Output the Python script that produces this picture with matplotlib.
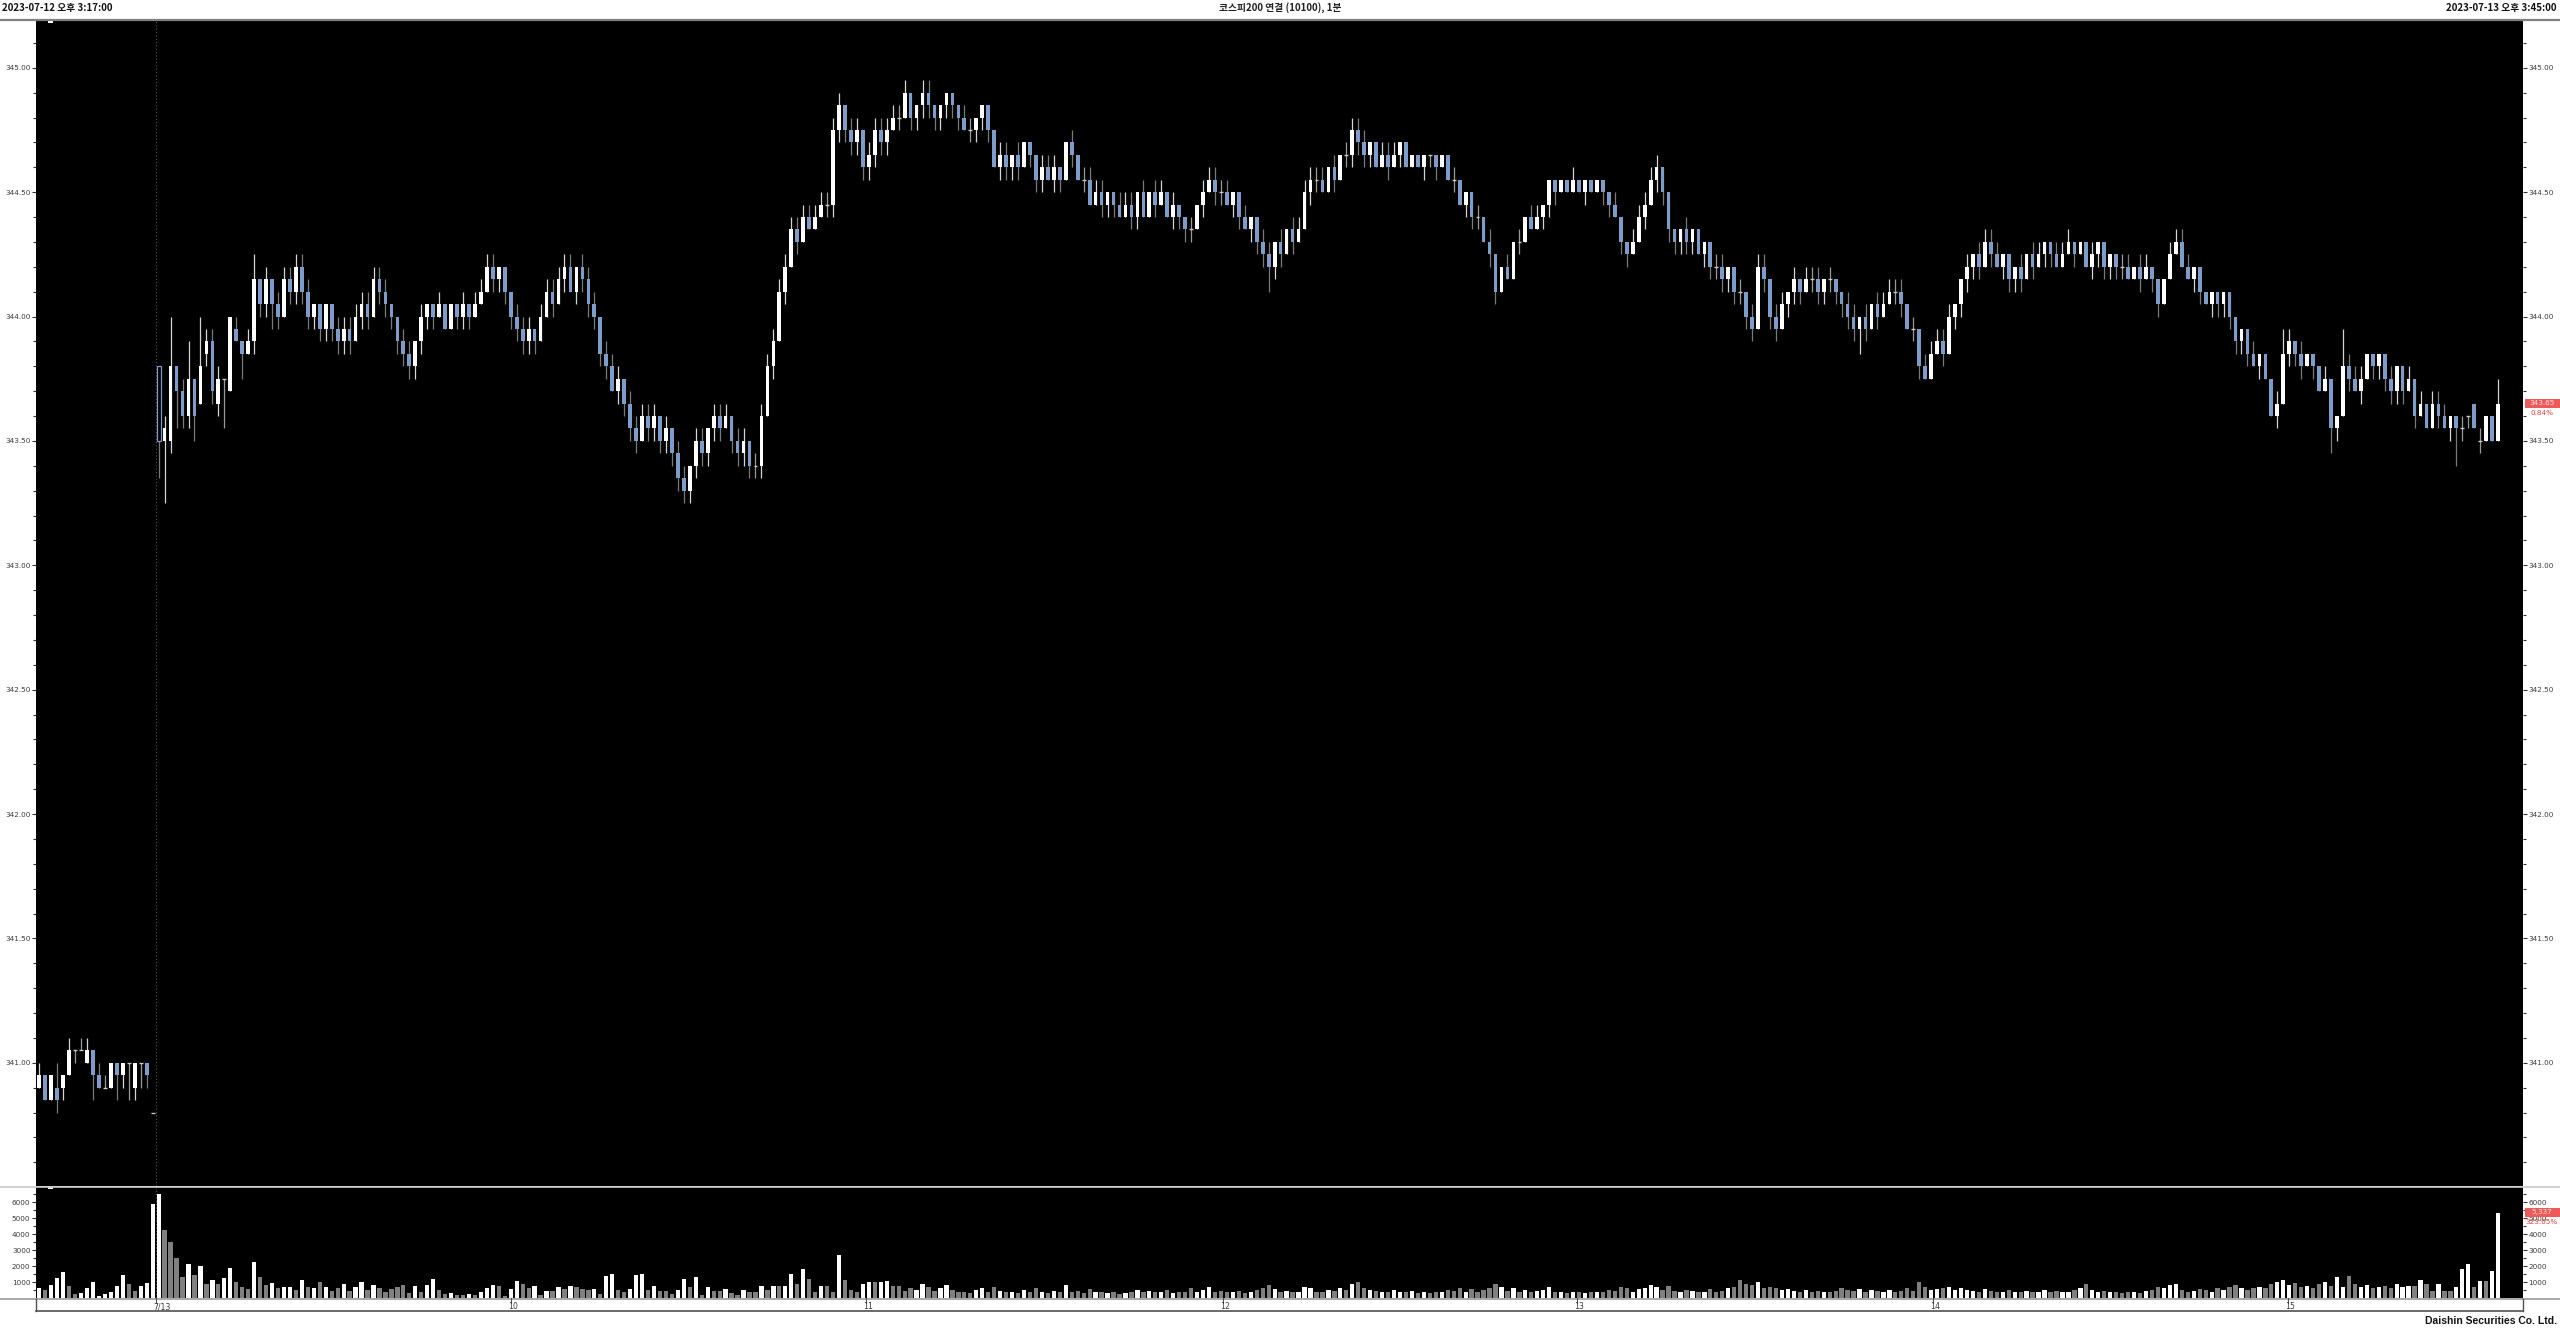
import matplotlib
matplotlib.use('Agg')
import matplotlib.pyplot as plt
import matplotlib.transforms as mtransforms
from matplotlib.patches import Rectangle
from matplotlib.lines import Line2D
import numpy as np

# ---------------- data ----------------
title_left = "2023-07-12 오후 3:17:00"
title_center = "코스피200 연결 (10100), 1분"
title_right = "2023-07-13 오후 3:45:00"
footer = "Daishin Securities Co. Ltd."

opens = [
    340.90, 340.95, 340.85, 340.90, 340.90, 340.95, 341.05, 341.05, 341.00, 341.05,
    340.95, 340.90, 340.90, 341.00, 340.95, 341.00, 340.90, 341.00, 341.00, 340.80,
    343.80, 343.50, 343.50, 343.80, 343.70, 343.60, 343.75, 343.65, 343.85, 343.90,
    343.65, 343.75, 343.70, 343.95, 343.90, 343.85, 343.90, 344.15, 344.05, 344.15,
    344.05, 344.00, 344.15, 344.10, 344.20, 344.10, 344.00, 344.05, 343.95, 344.05,
    343.95, 343.90, 343.95, 343.90, 344.00, 344.05, 344.00, 344.15, 344.10, 344.05,
    344.00, 343.90, 343.85, 343.80, 343.90, 344.00, 344.05, 344.00, 344.05, 343.95,
    344.05, 344.00, 344.05, 344.00, 344.05, 344.10, 344.20, 344.15, 344.20, 344.10,
    344.00, 343.95, 343.90, 343.95, 343.90, 344.00, 344.10, 344.05, 344.15, 344.20,
    344.10, 344.20, 344.15, 344.05, 344.00, 343.85, 343.80, 343.70, 343.75, 343.65,
    343.55, 343.50, 343.60, 343.55, 343.60, 343.50, 343.55, 343.45, 343.35, 343.30,
    343.40, 343.50, 343.45, 343.55, 343.60, 343.55, 343.60, 343.50, 343.45, 343.50,
    343.40, 343.40, 343.60, 343.80, 343.90, 344.10, 344.20, 344.35, 344.30, 344.40,
    344.35, 344.40, 344.45, 344.45, 344.75, 344.85, 344.75, 344.70, 344.75, 344.60,
    344.65, 344.75, 344.70, 344.75, 344.80, 344.80, 344.90, 344.80, 344.85, 344.90,
    344.85, 344.80, 344.85, 344.90, 344.85, 344.80, 344.75, 344.75, 344.80, 344.85,
    344.75, 344.60, 344.65, 344.60, 344.65, 344.60, 344.70, 344.65, 344.55, 344.60,
    344.55, 344.60, 344.55, 344.70, 344.65, 344.55, 344.55, 344.45, 344.50, 344.45,
    344.50, 344.45, 344.40, 344.45, 344.40, 344.50, 344.40, 344.50, 344.45, 344.50,
    344.40, 344.45, 344.40, 344.35, 344.35, 344.45, 344.50, 344.55, 344.50, 344.50,
    344.45, 344.50, 344.40, 344.35, 344.40, 344.30, 344.25, 344.20, 344.30, 344.25,
    344.35, 344.30, 344.35, 344.50, 344.55, 344.55, 344.50, 344.60, 344.55, 344.65,
    344.65, 344.75, 344.70, 344.65, 344.70, 344.60, 344.65, 344.60, 344.65, 344.70,
    344.60, 344.65, 344.60, 344.65, 344.65, 344.60, 344.65, 344.55, 344.55, 344.45,
    344.50, 344.40, 344.40, 344.30, 344.25, 344.10, 344.20, 344.15, 344.30, 344.30,
    344.40, 344.35, 344.40, 344.45, 344.55, 344.50, 344.55, 344.50, 344.55, 344.50,
    344.55, 344.50, 344.55, 344.50, 344.45, 344.40, 344.30, 344.25, 344.30, 344.40,
    344.45, 344.55, 344.60, 344.50, 344.35, 344.30, 344.35, 344.30, 344.35, 344.25,
    344.30, 344.20, 344.20, 344.15, 344.20, 344.10, 344.10, 344.00, 343.95, 344.20,
    344.15, 344.00, 343.95, 344.05, 344.10, 344.15, 344.10, 344.15, 344.15, 344.10,
    344.15, 344.15, 344.10, 344.05, 344.00, 343.95, 344.00, 343.95, 344.05, 344.00,
    344.05, 344.10, 344.10, 344.05, 343.95, 343.95, 343.80, 343.75, 343.85, 343.90,
    343.85, 344.00, 344.05, 344.15, 344.20, 344.25, 344.20, 344.30, 344.25, 344.20,
    344.25, 344.15, 344.20, 344.15, 344.25, 344.20, 344.25, 344.30, 344.25, 344.20,
    344.25, 344.30, 344.25, 344.30, 344.20, 344.25, 344.30, 344.20, 344.25, 344.20,
    344.20, 344.15, 344.20, 344.15, 344.20, 344.15, 344.05, 344.15, 344.25, 344.30,
    344.20, 344.15, 344.20, 344.10, 344.05, 344.10, 344.05, 344.10, 344.00, 343.90,
    343.95, 343.85, 343.80, 343.85, 343.75, 343.60, 343.65, 343.85, 343.90, 343.85,
    343.80, 343.85, 343.80, 343.70, 343.75, 343.55, 343.60, 343.80, 343.75, 343.70,
    343.75, 343.85, 343.80, 343.85, 343.75, 343.70, 343.80, 343.70, 343.75, 343.60,
    343.65, 343.55, 343.65, 343.60, 343.55, 343.60, 343.55, 343.60, 343.65, 343.50,
    343.50, 343.60, 343.50]
highs = [
    341.00, 340.95, 340.95, 341.00, 340.95, 341.10, 341.05, 341.10, 341.10, 341.05,
    341.00, 340.95, 341.00, 341.00, 341.00, 341.00, 341.00, 341.00, 341.00, 340.80,
    343.80, 343.60, 344.00, 343.80, 343.75, 343.90, 343.75, 344.00, 343.95, 343.95,
    343.80, 343.75, 344.00, 344.00, 343.90, 343.95, 344.25, 344.15, 344.20, 344.15,
    344.10, 344.20, 344.20, 344.25, 344.25, 344.15, 344.05, 344.05, 344.05, 344.05,
    344.00, 344.00, 344.00, 344.05, 344.10, 344.10, 344.20, 344.20, 344.15, 344.05,
    344.00, 343.95, 343.90, 343.90, 344.05, 344.05, 344.05, 344.10, 344.05, 344.05,
    344.05, 344.10, 344.05, 344.10, 344.15, 344.25, 344.25, 344.20, 344.20, 344.10,
    344.05, 344.00, 344.00, 343.95, 344.05, 344.15, 344.15, 344.20, 344.25, 344.25,
    344.20, 344.25, 344.20, 344.10, 344.00, 343.90, 343.85, 343.80, 343.75, 343.70,
    343.60, 343.65, 343.65, 343.65, 343.60, 343.60, 343.55, 343.50, 343.40, 343.40,
    343.55, 343.55, 343.55, 343.65, 343.65, 343.65, 343.60, 343.55, 343.55, 343.50,
    343.45, 343.65, 343.85, 343.95, 344.15, 344.25, 344.40, 344.40, 344.45, 344.45,
    344.45, 344.50, 344.50, 344.80, 344.90, 344.85, 344.80, 344.80, 344.75, 344.70,
    344.80, 344.80, 344.80, 344.85, 344.85, 344.95, 344.90, 344.85, 344.95, 344.95,
    344.85, 344.85, 344.90, 344.90, 344.85, 344.85, 344.80, 344.80, 344.85, 344.85,
    344.75, 344.70, 344.70, 344.65, 344.70, 344.70, 344.70, 344.65, 344.65, 344.65,
    344.65, 344.60, 344.70, 344.75, 344.65, 344.60, 344.60, 344.55, 344.55, 344.50,
    344.50, 344.50, 344.50, 344.50, 344.50, 344.55, 344.50, 344.55, 344.55, 344.50,
    344.50, 344.45, 344.40, 344.40, 344.45, 344.55, 344.60, 344.60, 344.55, 344.55,
    344.50, 344.50, 344.45, 344.40, 344.40, 344.35, 344.30, 344.30, 344.35, 344.35,
    344.40, 344.40, 344.55, 344.60, 344.60, 344.60, 344.60, 344.65, 344.65, 344.70,
    344.80, 344.80, 344.75, 344.70, 344.70, 344.70, 344.70, 344.70, 344.70, 344.70,
    344.65, 344.65, 344.65, 344.65, 344.65, 344.65, 344.65, 344.60, 344.55, 344.50,
    344.50, 344.45, 344.40, 344.35, 344.25, 344.20, 344.25, 344.30, 344.35, 344.40,
    344.45, 344.45, 344.45, 344.55, 344.55, 344.55, 344.55, 344.60, 344.55, 344.55,
    344.55, 344.55, 344.55, 344.50, 344.50, 344.40, 344.30, 344.35, 344.45, 344.50,
    344.60, 344.65, 344.60, 344.50, 344.35, 344.35, 344.40, 344.35, 344.35, 344.30,
    344.30, 344.25, 344.25, 344.20, 344.20, 344.15, 344.10, 344.05, 344.25, 344.25,
    344.15, 344.05, 344.10, 344.10, 344.20, 344.15, 344.20, 344.20, 344.20, 344.15,
    344.20, 344.15, 344.10, 344.10, 344.05, 344.00, 344.05, 344.05, 344.10, 344.10,
    344.15, 344.15, 344.15, 344.05, 344.00, 343.95, 343.85, 343.90, 343.95, 343.95,
    344.05, 344.05, 344.15, 344.25, 344.25, 344.30, 344.35, 344.35, 344.30, 344.25,
    344.25, 344.20, 344.25, 344.25, 344.30, 344.30, 344.30, 344.30, 344.30, 344.30,
    344.35, 344.30, 344.30, 344.30, 344.30, 344.30, 344.30, 344.25, 344.25, 344.25,
    344.25, 344.20, 344.25, 344.25, 344.20, 344.15, 344.15, 344.30, 344.35, 344.35,
    344.25, 344.20, 344.20, 344.10, 344.10, 344.10, 344.10, 344.10, 344.00, 343.95,
    343.95, 343.90, 343.85, 343.85, 343.75, 343.70, 343.95, 343.95, 343.90, 343.90,
    343.85, 343.85, 343.80, 343.80, 343.75, 343.60, 343.95, 343.85, 343.80, 343.80,
    343.85, 343.85, 343.85, 343.85, 343.80, 343.80, 343.80, 343.80, 343.75, 343.70,
    343.65, 343.70, 343.70, 343.65, 343.60, 343.60, 343.60, 343.60, 343.65, 343.55,
    343.60, 343.60, 343.75]
lows = [
    340.90, 340.85, 340.85, 340.80, 340.85, 340.95, 341.00, 341.05, 341.00, 340.85,
    340.90, 340.90, 340.90, 340.85, 340.90, 340.85, 340.85, 340.90, 340.90, 340.80,
    343.35, 343.25, 343.45, 343.55, 343.55, 343.55, 343.50, 343.65, 343.80, 343.65,
    343.60, 343.55, 343.70, 343.90, 343.75, 343.85, 343.85, 344.00, 344.00, 343.95,
    343.95, 344.00, 344.05, 344.05, 344.05, 343.95, 343.95, 343.90, 343.90, 343.90,
    343.85, 343.85, 343.85, 343.90, 343.95, 343.95, 344.00, 344.05, 344.00, 343.95,
    343.85, 343.80, 343.75, 343.75, 343.85, 343.95, 343.95, 344.00, 343.95, 343.95,
    343.95, 343.95, 343.95, 344.00, 344.05, 344.10, 344.10, 344.10, 344.05, 343.95,
    343.90, 343.85, 343.85, 343.85, 343.90, 344.00, 344.00, 344.05, 344.10, 344.10,
    344.05, 344.10, 344.00, 343.95, 343.80, 343.75, 343.70, 343.65, 343.60, 343.50,
    343.45, 343.50, 343.50, 343.50, 343.45, 343.45, 343.40, 343.30, 343.25, 343.25,
    343.35, 343.40, 343.40, 343.50, 343.50, 343.55, 343.45, 343.40, 343.40, 343.35,
    343.35, 343.35, 343.60, 343.75, 343.90, 344.05, 344.20, 344.25, 344.30, 344.35,
    344.35, 344.40, 344.40, 344.40, 344.70, 344.70, 344.65, 344.65, 344.55, 344.55,
    344.60, 344.65, 344.65, 344.75, 344.75, 344.80, 344.75, 344.75, 344.80, 344.80,
    344.75, 344.75, 344.80, 344.80, 344.75, 344.75, 344.70, 344.70, 344.75, 344.70,
    344.60, 344.55, 344.55, 344.55, 344.55, 344.60, 344.60, 344.50, 344.50, 344.55,
    344.50, 344.50, 344.55, 344.60, 344.55, 344.50, 344.45, 344.45, 344.40, 344.40,
    344.40, 344.40, 344.40, 344.35, 344.35, 344.40, 344.40, 344.40, 344.45, 344.40,
    344.35, 344.35, 344.30, 344.30, 344.35, 344.40, 344.50, 344.45, 344.45, 344.45,
    344.40, 344.35, 344.35, 344.30, 344.25, 344.20, 344.10, 344.15, 344.20, 344.25,
    344.25, 344.30, 344.35, 344.45, 344.50, 344.50, 344.50, 344.50, 344.55, 344.60,
    344.60, 344.65, 344.60, 344.60, 344.60, 344.60, 344.55, 344.60, 344.60, 344.60,
    344.60, 344.60, 344.55, 344.60, 344.55, 344.60, 344.55, 344.50, 344.45, 344.40,
    344.35, 344.35, 344.30, 344.20, 344.05, 344.10, 344.15, 344.15, 344.25, 344.30,
    344.35, 344.35, 344.35, 344.40, 344.45, 344.50, 344.50, 344.50, 344.50, 344.45,
    344.50, 344.50, 344.45, 344.40, 344.40, 344.25, 344.20, 344.25, 344.30, 344.35,
    344.45, 344.50, 344.45, 344.30, 344.25, 344.25, 344.25, 344.25, 344.25, 344.20,
    344.15, 344.15, 344.10, 344.10, 344.05, 344.05, 343.95, 343.90, 343.95, 344.10,
    343.95, 343.90, 343.95, 344.00, 344.05, 344.05, 344.10, 344.10, 344.05, 344.05,
    344.10, 344.05, 344.00, 343.95, 343.90, 343.85, 343.90, 343.95, 343.95, 344.00,
    344.05, 344.05, 344.00, 343.95, 343.90, 343.75, 343.75, 343.75, 343.85, 343.80,
    343.85, 343.95, 344.00, 344.10, 344.15, 344.15, 344.20, 344.20, 344.20, 344.15,
    344.10, 344.10, 344.10, 344.15, 344.15, 344.20, 344.20, 344.20, 344.20, 344.20,
    344.25, 344.20, 344.25, 344.20, 344.15, 344.20, 344.15, 344.15, 344.15, 344.15,
    344.15, 344.15, 344.10, 344.15, 344.10, 344.00, 344.05, 344.15, 344.25, 344.20,
    344.15, 344.10, 344.05, 344.05, 344.00, 344.00, 344.00, 343.95, 343.85, 343.85,
    343.80, 343.80, 343.75, 343.75, 343.60, 343.55, 343.65, 343.80, 343.80, 343.75,
    343.80, 343.75, 343.70, 343.70, 343.45, 343.50, 343.60, 343.70, 343.70, 343.65,
    343.75, 343.75, 343.75, 343.70, 343.65, 343.65, 343.65, 343.70, 343.55, 343.60,
    343.55, 343.55, 343.55, 343.55, 343.50, 343.40, 343.50, 343.55, 343.55, 343.45,
    343.50, 343.50, 343.50]
closes = [
    340.95, 340.85, 340.95, 340.85, 340.95, 341.05, 341.05, 341.05, 341.05, 340.95,
    340.90, 340.90, 341.00, 340.95, 341.00, 341.00, 341.00, 341.00, 340.95, 340.80,
    343.50, 343.55, 343.80, 343.70, 343.60, 343.75, 343.60, 343.80, 343.90, 343.70,
    343.75, 343.75, 344.00, 343.90, 343.85, 343.90, 344.15, 344.05, 344.15, 344.05,
    344.00, 344.15, 344.10, 344.20, 344.10, 344.00, 344.05, 343.95, 344.05, 343.95,
    343.90, 343.95, 343.90, 344.00, 344.05, 344.00, 344.15, 344.10, 344.05, 344.00,
    343.90, 343.85, 343.80, 343.90, 344.00, 344.05, 344.00, 344.05, 343.95, 344.05,
    344.00, 344.05, 344.00, 344.05, 344.10, 344.20, 344.15, 344.20, 344.10, 344.00,
    343.95, 343.90, 343.95, 343.90, 344.00, 344.10, 344.05, 344.15, 344.20, 344.10,
    344.20, 344.15, 344.05, 344.00, 343.85, 343.80, 343.70, 343.75, 343.65, 343.55,
    343.50, 343.60, 343.55, 343.60, 343.50, 343.55, 343.45, 343.35, 343.30, 343.40,
    343.50, 343.45, 343.55, 343.60, 343.55, 343.60, 343.50, 343.45, 343.50, 343.40,
    343.40, 343.60, 343.80, 343.90, 344.10, 344.20, 344.35, 344.30, 344.40, 344.35,
    344.40, 344.45, 344.45, 344.75, 344.85, 344.75, 344.70, 344.75, 344.60, 344.65,
    344.75, 344.70, 344.75, 344.80, 344.80, 344.90, 344.80, 344.85, 344.90, 344.85,
    344.80, 344.85, 344.90, 344.85, 344.80, 344.75, 344.75, 344.80, 344.85, 344.75,
    344.60, 344.65, 344.60, 344.65, 344.60, 344.70, 344.65, 344.55, 344.60, 344.55,
    344.60, 344.55, 344.70, 344.65, 344.55, 344.55, 344.45, 344.50, 344.45, 344.50,
    344.45, 344.40, 344.45, 344.40, 344.50, 344.40, 344.50, 344.45, 344.50, 344.40,
    344.45, 344.40, 344.35, 344.35, 344.45, 344.50, 344.55, 344.50, 344.50, 344.45,
    344.50, 344.40, 344.35, 344.40, 344.30, 344.25, 344.20, 344.30, 344.25, 344.35,
    344.30, 344.35, 344.50, 344.55, 344.55, 344.50, 344.60, 344.55, 344.65, 344.65,
    344.75, 344.70, 344.65, 344.70, 344.60, 344.65, 344.60, 344.65, 344.70, 344.60,
    344.65, 344.60, 344.65, 344.65, 344.60, 344.65, 344.55, 344.55, 344.45, 344.50,
    344.40, 344.40, 344.30, 344.25, 344.10, 344.20, 344.15, 344.30, 344.30, 344.40,
    344.35, 344.40, 344.45, 344.55, 344.50, 344.55, 344.50, 344.55, 344.50, 344.55,
    344.50, 344.55, 344.50, 344.45, 344.40, 344.30, 344.25, 344.30, 344.40, 344.45,
    344.55, 344.60, 344.50, 344.35, 344.30, 344.35, 344.30, 344.35, 344.25, 344.30,
    344.20, 344.20, 344.15, 344.20, 344.10, 344.10, 344.00, 343.95, 344.20, 344.15,
    344.00, 343.95, 344.05, 344.10, 344.15, 344.10, 344.15, 344.15, 344.10, 344.15,
    344.15, 344.10, 344.05, 344.00, 343.95, 344.00, 343.95, 344.05, 344.00, 344.05,
    344.10, 344.10, 344.05, 343.95, 343.95, 343.80, 343.75, 343.85, 343.90, 343.85,
    344.00, 344.05, 344.15, 344.20, 344.25, 344.20, 344.30, 344.25, 344.20, 344.25,
    344.15, 344.20, 344.15, 344.25, 344.20, 344.25, 344.30, 344.25, 344.20, 344.25,
    344.30, 344.25, 344.30, 344.20, 344.25, 344.30, 344.20, 344.25, 344.20, 344.20,
    344.15, 344.20, 344.15, 344.20, 344.15, 344.05, 344.15, 344.25, 344.30, 344.20,
    344.15, 344.20, 344.10, 344.05, 344.10, 344.05, 344.10, 344.00, 343.90, 343.95,
    343.85, 343.80, 343.85, 343.75, 343.60, 343.65, 343.85, 343.90, 343.85, 343.80,
    343.85, 343.80, 343.70, 343.75, 343.55, 343.60, 343.80, 343.75, 343.70, 343.75,
    343.85, 343.80, 343.85, 343.75, 343.70, 343.80, 343.70, 343.75, 343.60, 343.65,
    343.55, 343.65, 343.60, 343.55, 343.60, 343.55, 343.55, 343.60, 343.55, 343.50,
    343.60, 343.50, 343.65]
hollow_candles = [20]

volumes = [
    625, 480, 810, 1250, 1600, 730, 250, 330, 625, 1000,
    150, 250, 375, 750, 1440, 875, 440, 770, 940, 5875,
    6540, 4270, 3500, 2500, 1310, 2100, 1440, 2020, 875, 1150,
    850, 1230, 1850, 980, 710, 560, 2230, 1290, 810, 940,
    600, 690, 690, 520, 1150, 700, 650, 1000, 700, 450,
    600, 900, 450, 700, 1000, 500, 800, 650, 400, 550,
    700, 830, 310, 770, 350, 830, 1200, 520, 270, 310,
    210, 170, 250, 210, 375, 625, 790, 730, 150, 560,
    1040, 875, 600, 730, 210, 460, 460, 690, 560, 770,
    690, 560, 520, 560, 270, 1400, 1500, 480, 350, 560,
    1450, 1500, 520, 730, 420, 420, 270, 480, 1200, 690,
    1300, 210, 690, 420, 420, 560, 310, 170, 520, 350,
    350, 730, 520, 730, 730, 730, 1500, 900, 1800, 1200,
    350, 770, 770, 375, 2700, 1150, 480, 350, 900, 980,
    980, 980, 1040, 770, 770, 420, 600, 500, 900, 700,
    450, 600, 800, 500, 400, 350, 300, 500, 650, 400,
    700, 450, 350, 400, 300, 500, 400, 600, 350, 300,
    450, 350, 800, 400, 450, 300, 550, 350, 400, 300,
    350, 250, 300, 350, 500, 400, 450, 350, 400, 500,
    300, 350, 400, 650, 350, 500, 700, 400, 450, 350,
    400, 450, 300, 350, 500, 650, 800, 550, 400, 450,
    350, 400, 700, 600, 350, 400, 500, 450, 650, 500,
    900, 1000, 600, 500, 450, 400, 350, 500, 400, 350,
    450, 300, 350, 300, 400, 350, 500, 450, 600, 400,
    550, 350, 500, 650, 900, 700, 450, 600, 400, 500,
    350, 450, 500, 700, 400, 350, 300, 400, 350, 300,
    350, 400, 350, 500, 450, 700, 600, 400, 550, 600,
    800, 700, 500, 750, 450, 400, 500, 450, 350, 400,
    550, 400, 450, 600, 700, 1100, 900, 800, 1000, 650,
    700, 600, 500, 550, 450, 400, 500, 350, 450, 400,
    350, 450, 600, 500, 450, 550, 400, 500, 450, 400,
    500, 350, 450, 600, 450, 1000, 700, 500, 550, 600,
    700, 500, 650, 500, 450, 400, 550, 450, 400, 350,
    500, 400, 350, 450, 400, 350, 500, 400, 450, 350,
    400, 500, 600, 900, 500, 400, 450, 350, 400, 300,
    350, 400, 300, 450, 500, 700, 600, 800, 900, 500,
    400, 450, 550, 500, 400, 600, 500, 700, 800, 650,
    500, 600, 700, 650, 900, 1000, 1150, 800, 950, 700,
    750, 650, 900, 1000, 750, 1300, 700, 1400, 900, 700,
    800, 600, 700, 750, 650, 900, 690, 770, 770, 1150,
    900, 460, 875, 460, 460, 710, 1830, 2150, 670, 1080,
    1080, 1670, 5337]
# bar tone: W = white, G = grey, '.' = same as candle direction
volume_tone = ("WGWWWGGWWW" "WWWWWGGWWW" "WGGGGWGWGW" "GWWGGGWGGW" "GWWGW"
               + "." * 16
               + "GGWGWWGGWG" "GWGWWWGGWW" "GGWGWGWGWG" "GGWGWWGGWW" "WGWGGGWWGW"
                 "GWGGWGGWGG" "WGWGWWGWGG" "WGGWGGGWWG" "WWGGG"
               + "." * 250
               + "WWGWGGWGGWWWGWGWW")

xtick_labels = ["7/13", "10", "11", "12", "13", "14", "15"]
xtick_index = [19.5, 79.0, 138.5, 198.3, 257.7, 317.3, 376.8]
xlabel_index = [20.6, 79.35, 138.85, 198.65, 258.05, 317.65, 377.15]
day_break_index = 19.5

last_price_label = "343.65"
last_change_label = "0.84%"
last_volume_label = "5,337"
last_volume_change = "323.65%"

price_major = [341.0, 341.5, 342.0, 342.5, 343.0, 343.5, 344.0, 344.5, 345.0]
volume_major = [1000, 2000, 3000, 4000, 5000, 6000]

# ---------------- layout ----------------
W, H = 2560, 1328
fig = plt.figure(figsize=(W / 100, H / 100), dpi=100)
fig.patch.set_facecolor('white')
cjk = ['Noto Sans CJK KR', 'DejaVu Sans']

L, R = 36, 2523
ax = fig.add_axes([L / W, 1 - 1186 / H, (R - L) / W, (1186 - 21) / H])
axv = fig.add_axes([L / W, 1 - 1298 / H, (R - L) / W, (1298 - 1187) / H])

x0_px, step_px = 39.3, 5.968
xlim = ((L - x0_px) / step_px, (R - x0_px) / step_px)

UP_BODY = '#ffffff'
UP_WICK = '#d4d4d4'
DN_BODY = '#7d9cc9'
DN_WICK = '#7a7a7a'
AXIS_TXT = '#3a3a3a'

for a in (ax, axv):
    a.set_facecolor('black')
    a.set_xlim(*xlim)
    for s in a.spines.values():
        s.set_visible(False)
    a.set_xticks([])

ax.set_ylim(340.505, 345.188)
axv.set_ylim(0, 6956)

bw = 0.62
n = len(opens)
for i in range(n):
    o, h, l, c = opens[i], highs[i], lows[i], closes[i]
    if c > o:
        wick_c, body_c = UP_WICK, UP_BODY
    elif c < o:
        wick_c, body_c = DN_WICK, DN_BODY
    else:
        wick_c, body_c = '#9a9a9a', '#c8c8c8'
    ax.vlines(i, min(l, o, c), max(h, o, c), colors=wick_c, linewidth=0.9, zorder=2)
    if o != c:
        if i in hollow_candles:
            ax.add_patch(Rectangle((i - bw / 2, min(o, c)), bw, abs(c - o),
                                   facecolor='black', edgecolor=DN_BODY, linewidth=0.9, zorder=3))
        else:
            ax.add_patch(Rectangle((i - bw / 2, min(o, c)), bw, abs(c - o),
                                   facecolor=body_c, edgecolor='none', zorder=3))
    else:
        ax.hlines(o, i - bw / 2, i + bw / 2, colors=body_c, linewidth=1.0, zorder=3)

vx = np.arange(len(volumes))
vcols = []
for i, t in enumerate(volume_tone):
    if t == '.':
        t = 'W' if closes[i] > opens[i] else 'G'
    vcols.append('#ffffff' if t == 'W' else '#808080')
axv.bar(vx, volumes, width=0.72, color=vcols, edgecolor='none', zorder=2)

# day break dotted line
for a in (ax, axv):
    a.axvline(day_break_index, color='#5a5a5a', linestyle=(0, (1, 2)), linewidth=0.8, zorder=1)

# y ticks
ax.set_yticks(price_major)
ax.set_yticks(np.round(np.arange(340.6, 345.11, 0.1), 2), minor=True)
ax.set_yticklabels([f"{v:.2f}" for v in price_major])
axv.set_yticks(volume_major)
axv.set_yticklabels([str(v) for v in volume_major])
axv.set_yticks(np.arange(500, 6501, 500), minor=True)
for a in (ax, axv):
    a.tick_params(axis='y', which='both', left=True, right=True, labelleft=True, labelright=True,
                  direction='out', colors='#303030', labelcolor=AXIS_TXT, labelsize=5.2, pad=1)
    a.tick_params(axis='y', which='major', length=3, width=0.8)
    a.tick_params(axis='y', which='minor', length=2, width=0.8)

# header and separators
fig.text(2 / W, 1 - 8 / H, title_left, ha='left', va='center', fontsize=7, fontweight='bold',
         family=cjk, color='#111111')
fig.text(1280 / W, 1 - 8 / H, title_center, ha='center', va='center', fontsize=7, fontweight='bold',
         family=cjk, color='#222222')
fig.text(2557 / W, 1 - 8 / H, title_right, ha='right', va='center', fontsize=7, fontweight='bold',
         family=cjk, color='#111111')
fig.text(2557 / W, 1 - 1321 / H, footer, ha='right', va='center', fontsize=7.5, fontweight='bold',
         family=['Liberation Sans', 'DejaVu Sans'], color='#111111')

for ypx, col, lw in [(20, '#808080', 1.6), (1186.5, '#c8c8c8', 1.2), (1298.5, '#9a9a9a', 1.2)]:
    fig.add_artist(Line2D([0, 1], [1 - ypx / H] * 2, color=col, linewidth=lw, transform=fig.transFigure))
fig.add_artist(Line2D([L / W, R / W], [1 - 1311 / H] * 2, color='#505050', linewidth=1.2,
                      transform=fig.transFigure))
for xp in (L, R):
    fig.add_artist(Line2D([xp / W] * 2, [1 - 1299 / H, 1 - 1311 / H], color='#505050', linewidth=1.0,
                          transform=fig.transFigure))

# x tick labels
bt = mtransforms.blended_transform_factory(axv.transData, fig.transFigure)
for lab, xi, xl in zip(xtick_labels, xtick_index, xlabel_index):
    fig.add_artist(Line2D([xi, xi], [1 - 1298 / H, 1 - 1303 / H], color='#505050', linewidth=0.8, transform=bt))
    fig.text(xl, 1 - 1306.5 / H, lab, transform=bt, ha='center', va='center', fontsize=5.6,
             color=AXIS_TXT)

# right-side last value boxes
def red_box(y_center, text):
    fig.add_artist(Rectangle((2525 / W, 1 - (y_center + 4.5) / H), 35 / W, 9 / H, transform=fig.transFigure,
                             facecolor='#ee5a5a', edgecolor='none'))
    fig.text(2542 / W, 1 - y_center / H, text, ha='center', va='center', fontsize=5.2, color='#ffe4e4')

red_box(403, last_price_label)
fig.text(2542 / W, 1 - 413 / H, last_change_label, ha='center', va='center', fontsize=5.2, color='#e03c3c')
red_box(1212, last_volume_label)
fig.text(2542 / W, 1 - 1222 / H, last_volume_change, ha='center', va='center', fontsize=5.2, color='#e03c3c')

# small handle markers
for ypx in (21, 1187):
    fig.add_artist(Rectangle((48 / W, 1 - (ypx + 2) / H), 5 / W, 2 / H, transform=fig.transFigure,
                             facecolor='white', edgecolor='none'))

fig.savefig('out.png', dpi=100, facecolor='white')
